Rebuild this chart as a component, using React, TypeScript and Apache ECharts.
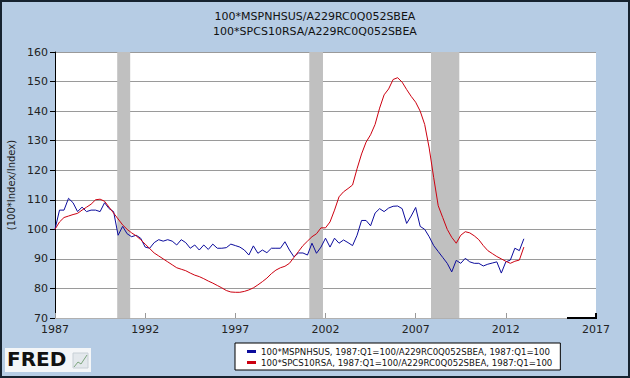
import React, { useEffect, useRef } from "react";
import * as echarts from "echarts";

const START_YEAR = 1987;
const TITLE_LINES = ["100*MSPNHSUS/A229RC0Q052SBEA", "100*SPCS10RSA/A229RC0Q052SBEA"];
const SERIES_NAMES = [
  "100*MSPNHSUS, 1987:Q1=100/A229RC0Q052SBEA, 1987:Q1=100",
  "100*SPCS10RSA, 1987:Q1=100/A229RC0Q052SBEA, 1987:Q1=100",
];
const Y_NAME = "(100*Index/Index)";

// quarterly values, 1987:Q1 .. 2013:Q1
const blueValues = [
  100, 106.5, 106.5, 110.5, 109, 106, 107.5, 106, 106.5, 106.5,
  106, 109, 107, 106, 98, 101, 98.5, 97.5, 98, 97,
  94, 93.6, 95.5, 96.5, 96, 96.5, 96, 94.7, 96.5, 95.5,
  93.6, 94.7, 93, 94.7, 93.2, 95, 93.6, 93.6, 93.8, 95,
  94.5, 94, 93, 91.3, 94.4, 91.9, 93, 92.1, 93.6, 93.6,
  93.6, 95.8, 93, 90.7, 92, 92, 91.3, 95.3, 91.9, 94,
  97, 94, 97, 95.3, 96.4, 95.5, 94.5, 98, 103, 103,
  101.2, 105.5, 107, 106, 107.2, 107.8, 107.9, 107, 102, 104.5,
  107.4, 101, 100, 97.5, 94.5, 92.5, 90.5, 88.5, 85.6, 89.5,
  88.5, 90.2, 89, 88.5, 88.5, 87.6, 88.2, 88.6, 89, 85.2,
  89, 89.6, 93.6, 92.8, 96.8,
];
const redValues = [
  100, 102.5, 104, 104.5, 105, 105.4, 106.5, 107.5, 108.5, 110,
  110.2, 109.5, 107.5, 105.5, 103.5, 101.5, 100, 98.8, 97.8, 96.5,
  95, 93.5, 92, 91, 90, 89, 88, 87, 86.5, 86,
  85.2, 84.5, 84, 83.3, 82.5, 81.8, 81, 80.2, 79.3, 78.8,
  78.7, 78.7, 79, 79.5, 80.2, 81.2, 82.3, 83.5, 85, 86.2,
  87, 87.5, 88.5, 90.5, 92.5, 94.5, 96, 97.5, 98.5, 100.5,
  100.5, 102.5, 106.5, 111, 112.7, 113.8, 115, 120.5, 125.5, 129.5,
  132, 135.5, 141, 145.5, 147.5, 150.7, 151.3, 149.8, 147.3, 145,
  143, 140, 135.5, 127.5, 117.5, 108, 104, 100, 97.3, 95.3,
  98, 99.2, 98.8, 97.8, 96.5, 94.5, 92.8, 91.8, 90.8, 90,
  89.2, 88.5, 89.2, 89.6, 94,
];
const recessions = [
  [1990.45, 1991.17],
  [2001.1, 2001.86],
  [2007.85, 2009.42],
];
const X_MIN = 1987;
const X_MAX = 2017;
const X_STEP = 5;
const Y_MIN = 70;
const Y_MAX = 160;
const Y_STEP = 10;

const toPairs = (vals: number[]) => vals.map((v, i) => [START_YEAR + i / 4, v]);

const FONT = "DejaVu Sans";
const BG = "#b6cce4";
const BLUE = "#0c0c9c";
const RED = "#cc0010";

export default function App() {
  const ref = useRef<HTMLDivElement>(null);
  useEffect(() => {
    document.body.style.margin = "0";
    const chart = echarts.init(ref.current!, null, { renderer: "svg" });
    chart.setOption({
      animation: false,
      backgroundColor: BG,
      title: {
        text: TITLE_LINES.join("\n"),
        left: "center",
        top: 4,
        textStyle: { fontFamily: FONT, fontSize: 11, fontWeight: "normal", color: "#111", lineHeight: 15 },
      },
      grid: {
        left: 55,
        right: 34,
        top: 52,
        bottom: 60,
        show: true,
        backgroundColor: "#ffffff",
        borderWidth: 0,
        containLabel: false,
        outerBoundsMode: "none",
      },
      legend: {
        data: SERIES_NAMES,
        orient: "vertical",
        left: 235,
        top: 343,
        itemGap: 2,
        itemWidth: 9,
        itemHeight: 3,
        icon: "rect",
        padding: [4, 8, 3, 12],
        backgroundColor: "#ffffff",
        borderColor: "#000",
        borderWidth: 1,
        borderRadius: 0,
        textStyle: { fontFamily: FONT, fontSize: 8.6, color: "#111" },
      },
      xAxis: {
        type: "value",
        min: X_MIN,
        max: X_MAX,
        interval: X_STEP,
        axisLine: { show: true, lineStyle: { color: "#b0b0b0" } },
        axisTick: { show: true, inside: true, length: 5, lineStyle: { color: "#999" } },
        axisLabel: {
          fontFamily: FONT,
          fontSize: 11,
          color: "#222",
          margin: 6,
          formatter: (v: number) => String(v),
        },
        splitLine: { show: false },
      },
      yAxis: {
        type: "value",
        min: Y_MIN,
        max: Y_MAX,
        interval: Y_STEP,
        name: Y_NAME,
        nameLocation: "middle",
        nameRotate: 90,
        nameGap: 37,
        nameTextStyle: { fontFamily: FONT, fontSize: 10, color: "#222" },
        axisLine: { show: true, lineStyle: { color: "#000", width: 1 } },
        axisTick: { show: true, length: 5, lineStyle: { color: "#000" } },
        axisLabel: { fontFamily: FONT, fontSize: 11, color: "#222", margin: 7 },
        splitLine: { show: true, lineStyle: { color: "#9a9a9a", width: 1 } },
      },
      series: [
        {
          name: "recessions",
          type: "line",
          data: [],
          z: 1,
          silent: true,
          markArea: {
            silent: true,
            itemStyle: { color: "#c0c0c0", opacity: 1 },
            data: recessions.map(([a, b]) => [{ xAxis: a }, { xAxis: b }]),
          },
        },
        {
          name: SERIES_NAMES[0],
          type: "line",
          data: toPairs(blueValues),
          showSymbol: false,
          z: 3,
          lineStyle: { color: BLUE, width: 1 },
          itemStyle: { color: BLUE },
        },
        {
          name: SERIES_NAMES[1],
          type: "line",
          data: toPairs(redValues),
          showSymbol: false,
          z: 4,
          lineStyle: { color: RED, width: 1 },
          itemStyle: { color: RED },
        },
      ],
      graphic: [
        {
          type: "rect",
          shape: { x: 1, y: 1, width: 628, height: 376 },
          style: { fill: "none", stroke: "#16222f", lineWidth: 2 },
          z: 100,
        },
        {
          type: "polyline",
          shape: { points: [[567, 318], [596, 318], [596, 313]] },
          style: { stroke: "#000", lineWidth: 2, fill: "none" },
          z: 50,
        },
        {
          type: "group",
          left: 5,
          top: 348,
          children: [
            { type: "rect", shape: { x: 0, y: 0, width: 86, height: 24 }, style: { fill: "#f4f6f8" } },
            {
              type: "text",
              x: 2,
              y: 1,
              style: { text: "FRED", fontFamily: "DejaVu Sans", fontWeight: "bold", fontSize: 20, fill: "#111" },
            },
            { type: "rect", shape: { x: 68, y: 5, width: 15, height: 15 }, style: { fill: "#e3e8ec", stroke: "#c8d0d6", lineWidth: 1 } },
            {
              type: "polyline",
              shape: { points: [[69, 19], [73, 14], [76, 16], [82, 7]] },
              style: { stroke: "#7da57d", lineWidth: 1, fill: "none" },
            },
          ],
        },
      ],
    });
    return () => chart.dispose();
  }, []);
  return <div ref={ref} style={{ position: "absolute", left: 0, top: 0, width: 630, height: 378 }} />;
}
